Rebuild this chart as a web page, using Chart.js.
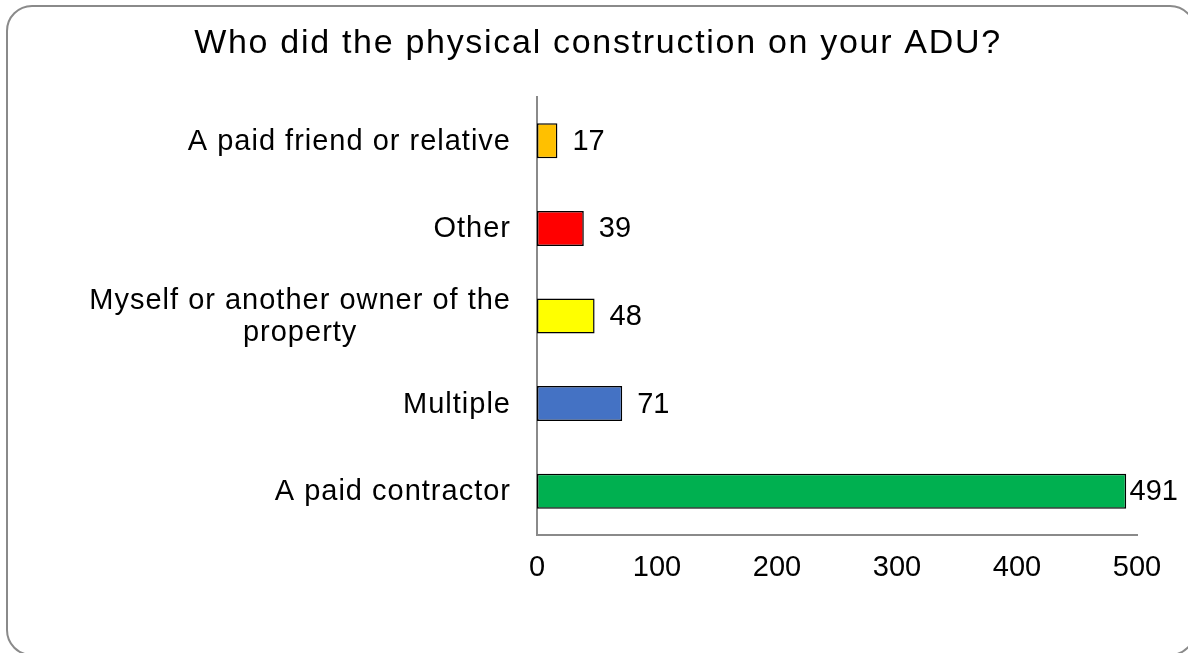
<!DOCTYPE html>
<html>
<head>
<meta charset="utf-8">
<script src="https://cdn.jsdelivr.net/npm/chart.js@4/dist/chart.umd.min.js"></script>
<style>
html,body{margin:0;padding:0;background:#fff;}
#wrap{width:1188px;height:653px;position:relative;}
</style>
</head>
<body>
<div id="wrap"><canvas id="c" width="1188" height="653"></canvas></div>
<script>
const titleText = "Who did the physical construction on your ADU?";
const categories = [
  "A paid friend or relative",
  "Other",
  ["Myself or another owner of the", "property"],
  "Multiple",
  "A paid contractor"
];
const values = [17, 39, 48, 71, 491];
const barColors = ["#FFC000", "#FF0000", "#FFFF00", "#4472C4", "#00B050"];
const xTicks = [0, 100, 200, 300, 400, 500];

const FONT = "'Liberation Sans', Arial, Helvetica, sans-serif";

const frame = {
  id: 'frame',
  beforeDraw(chart) {
    const ctx = chart.ctx;
    ctx.save();
    ctx.fillStyle = '#fff';
    ctx.fillRect(0, 0, chart.width, chart.height);
    ctx.strokeStyle = '#8a8a8a';
    ctx.lineWidth = 2;
    ctx.beginPath();
    ctx.roundRect(7, 6, 1188, 649, 25);
    ctx.stroke();
    ctx.restore();
  }
};

const titleDraw = {
  id: 'titleDraw',
  afterDraw(chart) {
    const ctx = chart.ctx;
    ctx.save();
    ctx.font = '34px ' + FONT;
    if ('letterSpacing' in ctx) ctx.letterSpacing = '1.7px';
    ctx.fillStyle = '#000';
    ctx.textBaseline = 'middle';
    ctx.textAlign = 'left';
    const w = ctx.measureText(titleText).width;
    ctx.fillText(titleText, 598 - w / 2, 44);
    ctx.restore();
  }
};

const yLabels = {
  id: 'yLabels',
  afterDraw(chart) {
    const ctx = chart.ctx;
    const ys = chart.scales.y;
    ctx.save();
    ctx.font = '29px ' + FONT;
    if ('letterSpacing' in ctx) ctx.letterSpacing = '1px';
    ctx.fillStyle = '#000';
    ctx.textBaseline = 'middle';
    ctx.textAlign = 'left';
    const right = chart.chartArea.left - 26;
    const lh = 32;
    chart.data.labels.forEach((lab, i) => {
      const lines = Array.isArray(lab) ? lab : [lab];
      const widths = lines.map(l => ctx.measureText(l).width);
      const w = Math.max(...widths);
      const cx = right - w / 2;
      const ty = ys.getPixelForTick(i);
      lines.forEach((l, k) => {
        ctx.fillText(l, cx - widths[k] / 2, ty - (lines.length - 1) * lh / 2 + k * lh + 1);
      });
    });
    ctx.restore();
  }
};

const dataLabels = {
  id: 'dataLabels',
  afterDatasetsDraw(chart) {
    const ctx = chart.ctx;
    const meta = chart.getDatasetMeta(0);
    ctx.save();
    ctx.font = '29px ' + FONT;
    ctx.fillStyle = '#000';
    ctx.textBaseline = 'middle';
    ctx.textAlign = 'left';
    meta.data.forEach((el, i) => {
      const t = String(chart.data.datasets[0].data[i]);
      const w = ctx.measureText(t).width;
      let x = el.x + 15;
      if (x + w > chart.width - 10) x = chart.width - 10 - w;
      ctx.fillText(t, x, el.y + 1);
    });
    ctx.restore();
  }
};

new Chart(document.getElementById('c'), {
  type: 'bar',
  data: {
    labels: categories,
    datasets: [{
      data: values,
      backgroundColor: barColors,
      borderColor: '#000',
      borderWidth: 1.5,
      borderSkipped: false,
      barPercentage: 0.4,
      categoryPercentage: 1.0
    }]
  },
  options: {
    indexAxis: 'y',
    responsive: false,
    animation: false,
    devicePixelRatio: 1,
    layout: { padding: { left: 0, right: 51, top: 97, bottom: 0 } },
    plugins: {
      legend: { display: false },
      tooltip: { enabled: false },
      title: { display: false }
    },
    scales: {
      x: {
        min: 0,
        max: 500,
        afterBuildTicks(scale) { scale.ticks = xTicks.map(v => ({ value: v })); },
        grid: { display: false, drawTicks: false },
        border: { display: true, color: '#8a8a8a', width: 2 },
        ticks: {
          color: '#000',
          font: { family: FONT, size: 29 },
          padding: 16,
          maxRotation: 0
        },
        afterFit(scale) { scale.height = 118; }
      },
      y: {
        grid: { display: false, drawTicks: false },
        border: { display: true, color: '#8a8a8a', width: 2 },
        ticks: {
          color: 'rgba(0,0,0,0)',
          font: { family: FONT, size: 24 },
          padding: 27
        },
        afterFit(scale) { scale.width = 537; }
      }
    }
  },
  plugins: [frame, titleDraw, yLabels, dataLabels]
});
</script>
</body>
</html>
